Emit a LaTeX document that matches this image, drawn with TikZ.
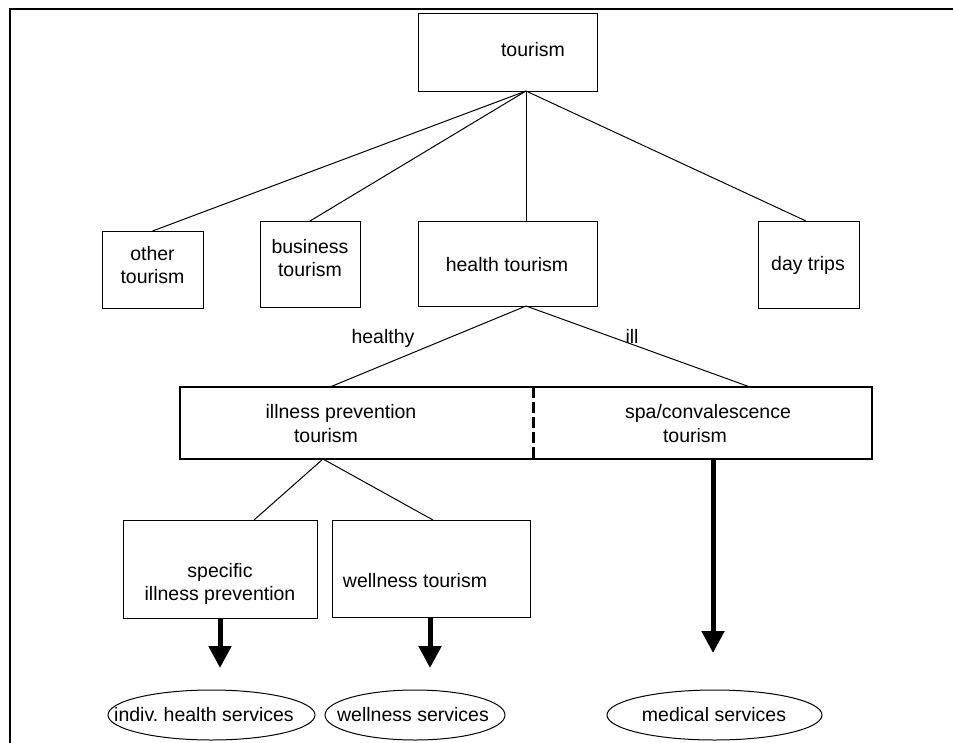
\documentclass[tikz,border=0pt]{standalone}
\usepackage{fontspec}
\setmainfont{Liberation Sans}
\usetikzlibrary{arrows.meta,shapes.geometric,calc}
\frenchspacing
\begin{document}
\begin{tikzpicture}[x=1pt,y=-1pt,
  every node/.style={font=\fontsize{19.5}{23}\selectfont},
  thinbox/.style={draw, line width=1pt, inner sep=0pt},
  plainbox/.style={inner sep=0pt},
  txt/.style={inner sep=0pt, align=center},
  conn/.style={line width=1pt},
  heavy/.style={line width=2.2pt},
  divider/.style={line width=3.2pt, dash pattern=on 11.5pt off 3.5pt},
  bigarrow/.style={line width=5pt, -{Triangle[width=22pt,length=22pt]}},
  oval/.style={draw, ellipse, line width=1pt, inner sep=0pt}
]
\useasboundingbox (0,0) rectangle (953,742);
% frame (top and left only)
\draw[heavy] (10,745) -- (10,9) -- (956,9);

% boxes
\node[thinbox, minimum width=179pt, minimum height=78pt] (tourism) at (507.5,52) {};
\node[thinbox, minimum width=101pt, minimum height=77pt] (other) at (152.5,269.5) {};
\node[thinbox, minimum width=100pt, minimum height=86pt] (business) at (310,264) {};
\node[thinbox, minimum width=179pt, minimum height=85pt] (health) at (507.5,263.5) {};
\node[thinbox, minimum width=101pt, minimum height=87pt] (day) at (808.5,264.5) {};
\node[plainbox, minimum width=353pt, minimum height=72pt] (ipt) at (356.5,423) {};
\node[plainbox, minimum width=339pt, minimum height=72pt] (spa) at (702.5,423) {};
\node[thinbox, minimum width=194pt, minimum height=98pt] (specific) at (220,569) {};
\node[thinbox, minimum width=198pt, minimum height=97pt] (wellness) at (431,568.5) {};

% combined level-3 box
\draw[heavy] (ipt.north west) rectangle (spa.south east);
\draw[divider] (ipt.north east) -- (ipt.south east);

% texts
\node[txt] (tTourism) at (533,50) {tourism};
\node[txt] (tOther) at (152.5,265.5) {other\\tourism};
\node[txt] (tBusiness) at (310,258) {business\\tourism};
\node[txt] (tHealth) at (507,265) {health tourism};
\node[txt] (tDay) at (808,265) {day trips};
\node[txt] (tHealthy) at (383,338) {healthy};
\node[txt] (tIll) at (632,336) {ill};
\node[txt] (tIpt1) at (341,413) {illness prevention};
\node[txt] (tIpt2) at (326,436) {tourism};
\node[txt] (tSpa1) at (708,413) {spa/convalescence};
\node[txt] (tSpa2) at (695,436) {tourism};
\node[txt] (tSpecific) at (220,584) {specific\\illness prevention};
\node[txt] (tWellness) at (415,581) {wellness tourism};

% ellipses
\node[oval, minimum width=207pt, minimum height=50pt] (indiv) at (211.5,715) {};
\node[txt] (tIndiv) at (204,715) {indiv. health services};
\node[oval, minimum width=180pt, minimum height=50pt] (wserv) at (415,715) {};
\node[txt] (tWserv) at (413,715) {wellness services};
\node[oval, minimum width=215pt, minimum height=50pt] (medical) at (714.5,715) {};
\node[txt] (tMedical) at (714,715) {medical services};

% connector end points
\coordinate (apexT) at (526,91);
\coordinate (hTop) at (526,221);
\coordinate (otherTop) at (152.5,231);
\coordinate (busTop) at (310,221);
\coordinate (dayTop) at (806,221);
\coordinate (apexH) at (526,306);
\coordinate (iptTop) at (330,387);
\coordinate (spaTop) at (750,387);
\coordinate (apexI) at (323,459);
\coordinate (specTop) at (254,520);
\coordinate (wellTop) at (433,520);
\coordinate (specArrowStart) at (220,618);
\coordinate (wellArrowStart) at (430,617);
\coordinate (spaArrowStart) at (713,459);
\coordinate (tipA) at (220,668);
\coordinate (tipB) at (430,668);
\coordinate (tipC) at (713,653);

% connectors
\draw[conn] (apexT) -- (otherTop);
\draw[conn] (apexT) -- (busTop);
\draw[conn] (apexT) -- (hTop);
\draw[conn] (apexT) -- (dayTop);
\draw[conn] (apexH) -- (iptTop);
\draw[conn] (apexH) -- (spaTop);
\draw[conn] (apexI) -- (specTop);
\draw[conn] (apexI) -- (wellTop);

% heavy arrows
\draw[bigarrow] (specArrowStart) -- (tipA);
\draw[bigarrow] (wellArrowStart) -- (tipB);
\draw[bigarrow] (spaArrowStart) -- (tipC);
\end{tikzpicture}
\end{document}
